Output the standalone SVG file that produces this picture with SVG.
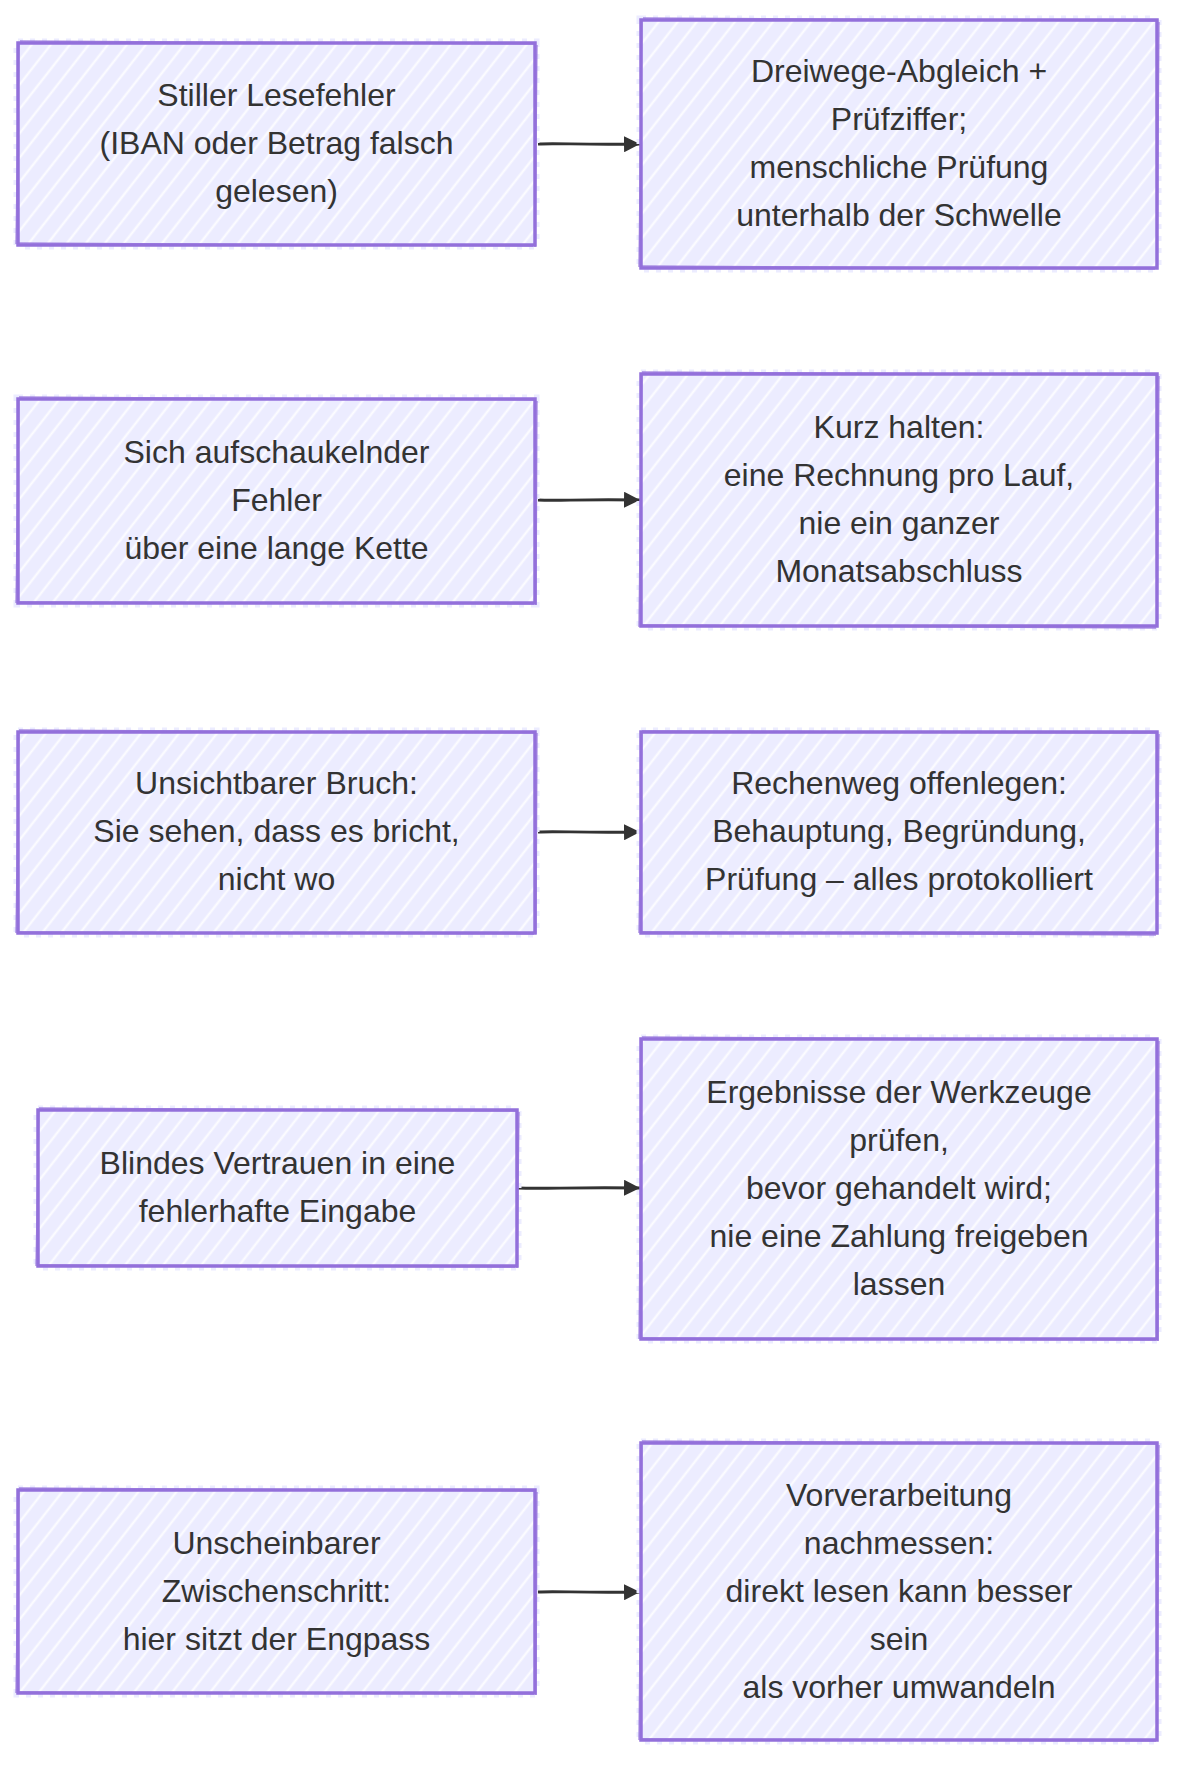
<svg xmlns="http://www.w3.org/2000/svg" width="1194" height="1781" viewBox="0 0 1194 1781">
  <defs>
    <pattern id="hatch" patternUnits="userSpaceOnUse" width="15" height="15" patternTransform="rotate(38)">
      <rect width="15" height="15" fill="#ECECFF"/>
      <line x1="7.5" y1="0" x2="7.5" y2="15" stroke="#ffffff" stroke-width="2" stroke-opacity="0.9"/>
    </pattern>
    <marker id="arrow" viewBox="0 0 10 10" refX="10" refY="5" markerWidth="16" markerHeight="16" markerUnits="userSpaceOnUse" orient="auto">
      <path d="M0,0 L10,5 L0,10 z" fill="#333333"/>
    </marker>
  </defs>
  <style>
    .box { fill: url(#hatch); stroke: #9370DB; stroke-width: 3.5; }
    .halo { fill: none; stroke: #ECECFF; stroke-width: 9; stroke-dasharray: 5 7; }
    .rough { fill: none; stroke: #9370DB; stroke-width: 1.4; stroke-opacity: 0.8; }
    .lbl { font-family: "Liberation Sans", Arial, sans-serif; font-size: 32px; fill: #333333; text-anchor: middle; }
    .edge { fill: none; stroke: #333333; stroke-width: 2.8; }
  </style>
  <rect width="1194" height="1781" fill="#ffffff"/>

  <g id="connectors">
    <path class="edge" d="M538,144 C560,143 580,145 640,144" marker-end="url(#arrow)"/>
    <path class="edge" d="M538,500 C560,501 580,499 640,500" marker-end="url(#arrow)"/>
    <path class="edge" d="M538,832 C560,831 580,833 640,832" marker-end="url(#arrow)"/>
    <path class="edge" d="M518,1188 C545,1189 575,1187 640,1188" marker-end="url(#arrow)"/>
    <path class="edge" d="M538,1592 C560,1591 580,1593 640,1592" marker-end="url(#arrow)"/>
  </g>

  <g id="n1a">
    <rect class="halo" x="18" y="43" width="517" height="202"/>
    <rect class="box" x="18" y="43" width="517" height="202"/>
    <path class="rough" d="M20,41 L536,44 M537,45 L535,247 M533,246 L17,243 M16,244 L19,42"/>
    <text class="lbl" x="276.5" y="106">Stiller Lesefehler</text>
    <text class="lbl" x="276.5" y="154">(IBAN oder Betrag falsch</text>
    <text class="lbl" x="276.5" y="202">gelesen)</text>
  </g>
  <g id="n1b">
    <rect class="halo" x="641" y="20" width="516" height="248"/>
    <rect class="box" x="641" y="20" width="516" height="248"/>
    <path class="rough" d="M643,18 L1158,21 M1159,22 L1157,269 M1155,269 L640,266 M639,267 L642,19"/>
    <text class="lbl" x="899" y="82">Dreiwege-Abgleich +</text>
    <text class="lbl" x="899" y="130">Prüfziffer;</text>
    <text class="lbl" x="899" y="178">menschliche Prüfung</text>
    <text class="lbl" x="899" y="226">unterhalb der Schwelle</text>
  </g>

  <g id="n2a">
    <rect class="halo" x="18" y="399" width="517" height="204"/>
    <rect class="box" x="18" y="399" width="517" height="204"/>
    <path class="rough" d="M19,397 L536,400 M537,401 L536,605 M534,604 L17,602 M16,603 L19,398"/>
    <text class="lbl" x="276.5" y="463">Sich aufschaukelnder</text>
    <text class="lbl" x="276.5" y="511">Fehler</text>
    <text class="lbl" x="276.5" y="559">über eine lange Kette</text>
  </g>
  <g id="n2b">
    <rect class="halo" x="641" y="374" width="516" height="252"/>
    <rect class="box" x="641" y="374" width="516" height="252"/>
    <path class="rough" d="M642,372 L1158,375 M1159,376 L1157,627 M1156,628 L640,625 M639,627 L642,373"/>
    <text class="lbl" x="899" y="438">Kurz halten:</text>
    <text class="lbl" x="899" y="486">eine Rechnung pro Lauf,</text>
    <text class="lbl" x="899" y="534">nie ein ganzer</text>
    <text class="lbl" x="899" y="582">Monatsabschluss</text>
  </g>

  <g id="n3a">
    <rect class="halo" x="18" y="732" width="517" height="201"/>
    <rect class="box" x="18" y="732" width="517" height="201"/>
    <path class="rough" d="M19,730 L536,733 M537,733 L536,934 M534,934 L17,932 M16,933 L19,731"/>
    <text class="lbl" x="276.5" y="794">Unsichtbarer Bruch:</text>
    <text class="lbl" x="276.5" y="842">Sie sehen, dass es bricht,</text>
    <text class="lbl" x="276.5" y="890">nicht wo</text>
  </g>
  <g id="n3b">
    <rect class="halo" x="641" y="732" width="516" height="201"/>
    <rect class="box" x="641" y="732" width="516" height="201"/>
    <path class="rough" d="M642,731 L1158,733 M1159,734 L1157,934 M1156,935 L640,932 M639,933 L642,731"/>
    <text class="lbl" x="899" y="794">Rechenweg offenlegen:</text>
    <text class="lbl" x="899" y="842">Behauptung, Begründung,</text>
    <text class="lbl" x="899" y="890">Prüfung – alles protokolliert</text>
  </g>

  <g id="n4a">
    <rect class="halo" x="38" y="1110" width="479" height="156"/>
    <rect class="box" x="38" y="1110" width="479" height="156"/>
    <path class="rough" d="M39,1108 L518,1111 M519,1112 L517,1268 M515,1267 L37,1265 M36,1266 L39,1109"/>
    <text class="lbl" x="277.5" y="1174">Blindes Vertrauen in eine</text>
    <text class="lbl" x="277.5" y="1222">fehlerhafte Eingabe</text>
  </g>
  <g id="n4b">
    <rect class="halo" x="641" y="1039" width="516" height="300"/>
    <rect class="box" x="641" y="1039" width="516" height="300"/>
    <path class="rough" d="M642,1037 L1158,1040 M1159,1041 L1158,1341 M1156,1340 L640,1338 M639,1339 L642,1038"/>
    <text class="lbl" x="899" y="1103">Ergebnisse der Werkzeuge</text>
    <text class="lbl" x="899" y="1151">prüfen,</text>
    <text class="lbl" x="899" y="1199">bevor gehandelt wird;</text>
    <text class="lbl" x="899" y="1247">nie eine Zahlung freigeben</text>
    <text class="lbl" x="899" y="1295">lassen</text>
  </g>

  <g id="n5a">
    <rect class="halo" x="18" y="1490" width="517" height="203"/>
    <rect class="box" x="18" y="1490" width="517" height="203"/>
    <path class="rough" d="M19,1488 L536,1491 M537,1492 L536,1695 M534,1694 L17,1692 M16,1693 L19,1489"/>
    <text class="lbl" x="276.5" y="1554">Unscheinbarer</text>
    <text class="lbl" x="276.5" y="1602">Zwischenschritt:</text>
    <text class="lbl" x="276.5" y="1650">hier sitzt der Engpass</text>
  </g>
  <g id="n5b">
    <rect class="halo" x="641" y="1443" width="516" height="297"/>
    <rect class="box" x="641" y="1443" width="516" height="297"/>
    <path class="rough" d="M642,1441 L1158,1444 M1159,1445 L1157,1741 M1156,1741 L640,1739 M639,1740 L642,1442"/>
    <text class="lbl" x="899" y="1506">Vorverarbeitung</text>
    <text class="lbl" x="899" y="1554">nachmessen:</text>
    <text class="lbl" x="899" y="1602">direkt lesen kann besser</text>
    <text class="lbl" x="899" y="1650">sein</text>
    <text class="lbl" x="899" y="1698">als vorher umwandeln</text>
  </g>
</svg>
